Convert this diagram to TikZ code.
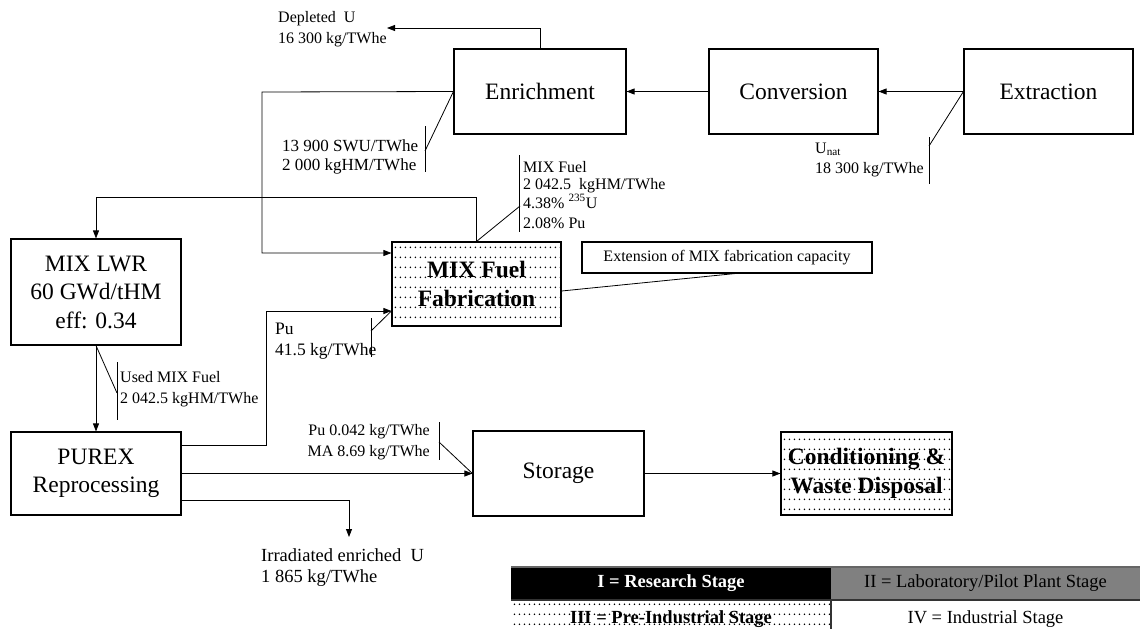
\documentclass[tikz,border=0pt]{standalone}
\usepackage{fontspec}
\setmainfont{Liberation Serif}
\usetikzlibrary{arrows.meta,calc,patterns.meta}

% fine dot screen used for the pre-industrial stage
\tikzdeclarepattern{
  name=stipple,
  type=uncolored,
  bottom left={(0pt,0pt)},
  top right={(5.4pt,9.6pt)},
  tile size={(5.4pt,9.6pt)},
  code={\fill (2.7pt,4.8pt) circle[radius=0.9pt];}
}

\tikzset{
  box/.style={draw, line width=1.1pt, inner sep=0pt, align=center,
    minimum width=171pt, minimum height=85pt,
    font=\fontsize{23.5}{28.5}\selectfont},
  stippled/.style={pattern=stipple, pattern color=black,
    font=\fontsize{23.5}{28.5}\selectfont\bfseries},
  arr/.style={line width=0.8pt, -{Triangle[length=8pt,width=6pt]}},
  wire/.style={line width=0.8pt},
  lbl/.style={anchor=base west, inner sep=0pt, font=\fontsize{16}{19}\selectfont},
  rlbl/.style={anchor=base east, inner sep=0pt, font=\fontsize{16}{19}\selectfont},
  cell/.style={inner sep=0pt, outer sep=0pt, minimum height=#1,
    font=\fontsize{18.5}{22}\selectfont},
  lowcell/.style={text height=22pt, text depth=4pt},
}

\begin{document}
\begin{tikzpicture}[x=1pt,y=-1pt]
\useasboundingbox (0,0) rectangle (1140,629);

% ---- process boxes ----
\node[box, minimum width=172pt] (enr)  at (540,91.5)   {Enrichment};
\node[box, minimum width=169pt] (conv) at (793.5,91.5) {Conversion};
\node[box, minimum width=169pt] (extr) at (1048.5,91.5) {Extraction};
\node[box, minimum width=170pt, minimum height=106pt] (lwr) at (96,292)
  {MIX LWR\\60 GWd/tHM\\eff: 0.34};
\node[box, stippled, minimum width=169pt, minimum height=84pt] (fab) at (476.5,284)
  {MIX Fuel\\Fabrication};
\node[box, minimum width=290pt, minimum height=31pt,
  font=\fontsize{16}{19}\selectfont] (ext) at (727,257.5)
  {Extension of MIX fabrication capacity};
\node[box, minimum width=170pt, minimum height=83pt] (purex) at (96,473.5)
  {PUREX\\Reprocessing};
\node[box] (stor) at (558.5,473.5) {Storage};
\node[box, stippled, minimum height=83pt] (cond) at (866.5,473.5)
  {Conditioning \&\\Waste Disposal};

% ---- routing points ----
\coordinate (depend) at (387,28);
\coordinate (e1) at (262,92);
\coordinate (e2) at (262,253);
\coordinate (f1) at (96,197);
\coordinate (p1) at (266,445);
\coordinate (p2) at (266,311);
\coordinate (i1) at (349,500);
\coordinate (i2) at (349,537);

% ---- material flows ----
\draw[arr] (enr.north) |- (depend);
\draw[arr] (conv.west) -- (enr.east);
\draw[arr] (extr.west) -- (conv.east);
\draw[arr] (enr.west) -- (e1) -- (e2) -- (e2 -| fab.west);
\draw[arr] (fab.north) |- (f1) -- (lwr.north);
\draw[arr] (lwr.south) -- (purex.north);
\draw[arr] (p1 -| purex.east) -- (p1) -- (p2) -- (p2 -| fab.west);
\draw[arr] (purex.east) -- (stor.west);
\draw[arr] (i1 -| purex.east) -- (i1) -- (i2);
\draw[arr] (stor.east) -- (cond.west);
\draw[wire] ($(fab.east)+(0,7)$) -- ($(ext.south)+(8,0)$);

% ---- flow labels ----
\node[lbl] (dep1) at (278,23) {Depleted\ \ U};
\node[lbl] (dep2) at (278,43) {16 300 kg/TWhe};

\node[lbl, font=\fontsize{17}{20}\selectfont] (swu1) at (282,151) {13 900 SWU/TWhe};
\node[lbl, font=\fontsize{17}{20}\selectfont] (swu2) at (282,170) {2 000 kgHM/TWhe};
\coordinate (sbt) at (425,126);
\coordinate (sbb) at (425,172);
\coordinate (sbm) at (425,151);
\draw[wire] (sbt) -- (sbb);
\draw[wire] (sbm) -- (enr.west);

\node[lbl] (mf1) at (523,172) {MIX Fuel};
\node[lbl] (mf2) at (523,189) {2 042.5\ \ kgHM/TWhe};
\node[lbl] (mf3) at (523,208) {4.38\% \textsuperscript{235}U};
\node[lbl] (mf4) at (523,228) {2.08\% Pu};
\coordinate (mbt) at (519,155);
\coordinate (mbb) at (519,232);
\coordinate (mbm) at (520,206);
\draw[wire] (mbt) -- (mbb);
\draw[wire] (fab.north) -- (mbm);

\node[lbl] (un1) at (815,153) {U\textsubscript{nat}};
\node[lbl] (un2) at (815,173) {18 300 kg/TWhe};
\coordinate (ubt) at (929,137);
\coordinate (ubb) at (929,184);
\coordinate (ubm) at (929,146);
\draw[wire] (ubt) -- (ubb);
\draw[wire] (ubm) -- (extr.west);

\node[lbl] (um1) at (120,382) {Used MIX Fuel};
\node[lbl] (um2) at (120,403) {2 042.5 kgHM/TWhe};
\coordinate (lbt) at (117,362);
\coordinate (lbb) at (117,420);
\coordinate (lbm) at (117,393);
\draw[wire] (lbt) -- (lbb);
\draw[wire] (lwr.south) -- (lbm);

\node[lbl, font=\fontsize{17.5}{20}\selectfont] (pu1) at (275,334) {Pu};
\node[lbl, font=\fontsize{17.5}{20}\selectfont] (pu2) at (275,355) {41.5 kg/TWhe};
\coordinate (pbt) at (371,318);
\coordinate (pbb) at (371,357);
\coordinate (pbm) at (371,331);
\draw[wire] (pbt) -- (pbb);
\draw[wire] (pbm) -- (p2 -| fab.west);

\node[rlbl] (ma1) at (430,435) {Pu 0.042 kg/TWhe};
\node[rlbl] (ma2) at (430,456) {MA 8.69 kg/TWhe};
\coordinate (abt) at (439,422);
\coordinate (abb) at (439,460);
\coordinate (abm) at (439,442);
\draw[wire] (abt) -- (abb);
\draw[wire] (abm) -- (stor.west);

\node[lbl, font=\fontsize{18.5}{22}\selectfont] (ir1) at (261,561) {Irradiated enriched\ \ U};
\node[lbl, font=\fontsize{18.5}{22}\selectfont] (ir2) at (261,582) {1 865 kg/TWhe};

% ---- stage key ----
\node[cell=33pt, minimum width=320pt, fill=black, text=white,
  font=\fontsize{18.5}{22}\selectfont\bfseries] (leg1) at (671,583.5) {I = Research Stage};
\node[cell=33pt, minimum width=309pt, fill=black!50] (leg2) at (985.5,583.5)
  {II = Laboratory/Pilot Plant Stage};
\node[cell=29pt, lowcell, minimum width=320pt, pattern=stipple, pattern color=black,
  font=\fontsize{18.5}{22}\selectfont\bfseries] (leg3) at (671,614.5) {III = Pre-Industrial Stage};
\node[cell=29pt, lowcell, minimum width=309pt] (leg4) at (985.5,614.5) {IV = Industrial Stage};
\draw[line width=1.2pt, black!60] (leg1.north west) -- (leg2.north east);
\draw[line width=1.2pt, black!80] (leg1.south west) -- (leg2.south east);
\draw[line width=1.2pt, black!80] (leg3.north east) -- (leg3.south east);
\end{tikzpicture}
\end{document}
